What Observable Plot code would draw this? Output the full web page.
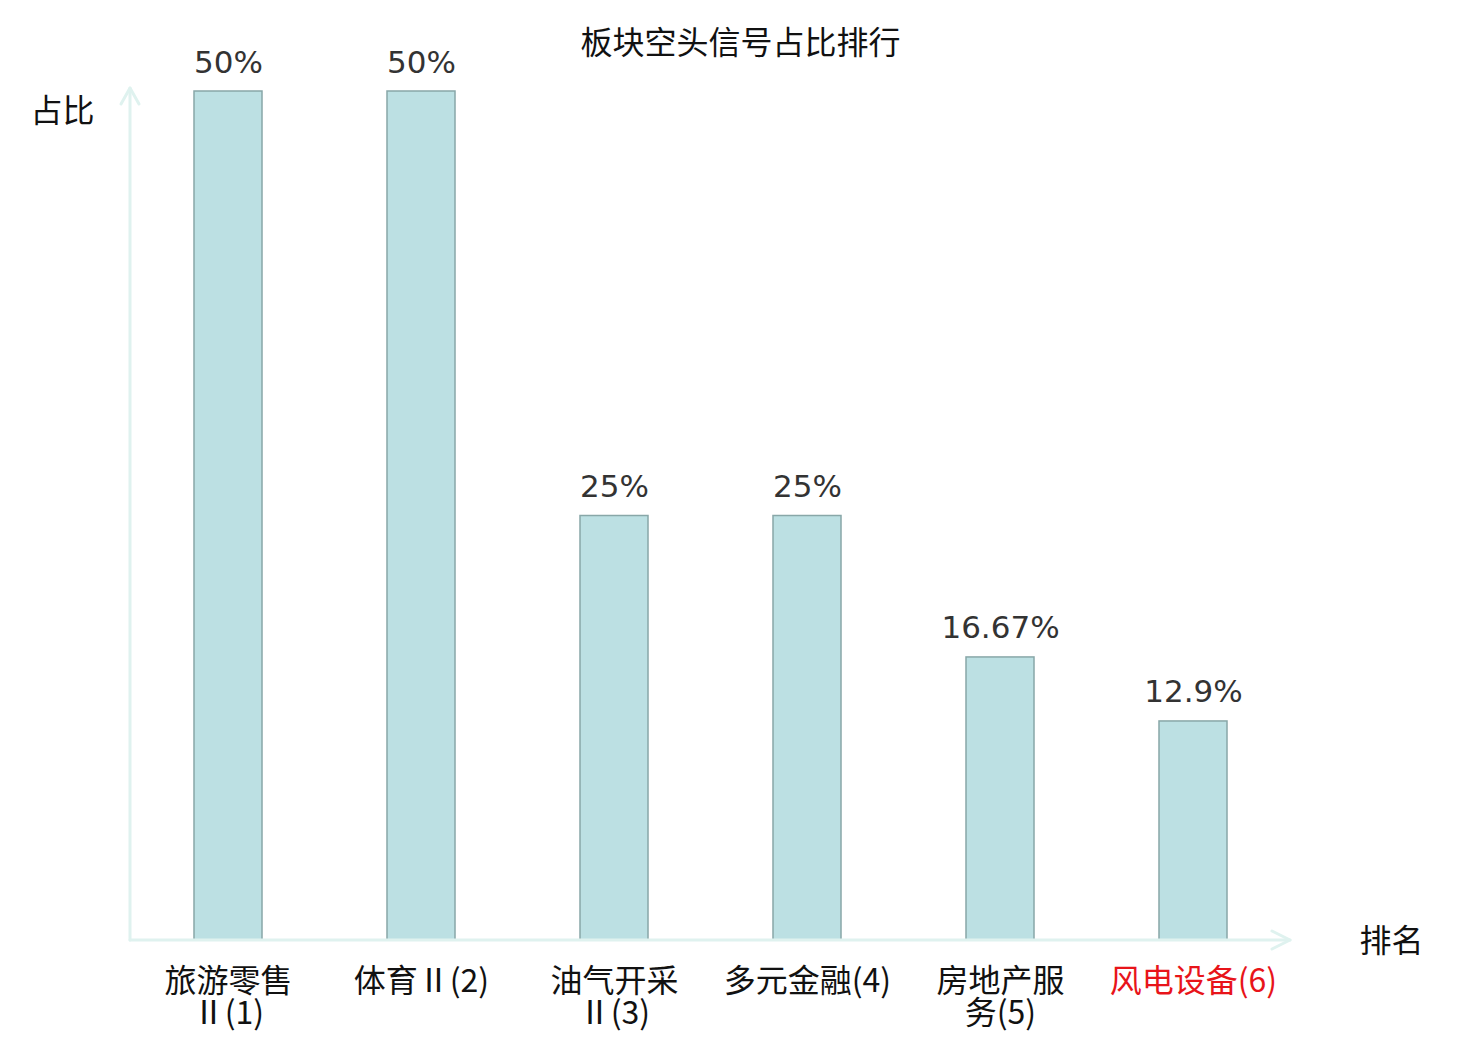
<!DOCTYPE html>
<html>
<head>
<meta charset="utf-8">
<script src="https://cdn.jsdelivr.net/npm/d3@7"></script>
<script src="https://cdn.jsdelivr.net/npm/@observablehq/plot@0.6"></script>
<style>
  html, body { margin: 0; padding: 0; background: #fff; }
  svg { display: block; }
</style>
</head>
<body>
<div id="chart"></div>
<script>
const title = "板块空头信号占比排行";
const yLabel = "占比";
const xLabel = "排名";
const categories = ["旅游零售Ⅱ(1)", "体育Ⅱ(2)", "油气开采Ⅱ(3)", "多元金融(4)", "房地产服务(5)", "风电设备(6)"];
const tickLabels = ["旅游零售\nⅡ(1)", "体育Ⅱ(2)", "油气开采\nⅡ(3)", "多元金融(4)", "房地产服\n务(5)", "风电设备(6)"];
const values = [50, 50, 25, 25, 16.67, 12.9];
const highlighted = "风电设备(6)";

const data = categories.map((name, i) => ({name, label: tickLabels[i], value: values[i]}));

const font = "'Noto Sans CJK SC', 'Noto Sans', sans-serif";
const axisColor = "#dff2ef";

function axesArrows(index, scales, values, dimensions) {
  const {marginLeft, marginTop, width, height, marginRight, marginBottom} = dimensions;
  const x0 = marginLeft, x1 = width - marginRight;
  const y0 = height - marginBottom;
  const yTop = marginTop - 3;
  const g = d3.create("svg:g")
    .attr("fill", "none")
    .attr("stroke", axisColor)
    .attr("stroke-width", 3)
    .attr("stroke-linecap", "round")
    .attr("stroke-linejoin", "round");
  g.append("path").attr("d", `M${x0},${y0}V${yTop}`);
  g.append("path").attr("d", `M${x0 - 9},${yTop + 16}L${x0},${yTop}L${x0 + 9},${yTop + 16}`);
  g.append("path").attr("d", `M${x0},${y0}H${x1}`);
  g.append("path").attr("d", `M${x1 - 18},${y0 - 9}L${x1},${y0}L${x1 - 18},${y0 + 9}`);
  return g.node();
}

const chart = Plot.plot({
  width: 1480,
  height: 1040,
  marginLeft: 130,
  marginRight: 190,
  marginTop: 91,
  marginBottom: 100,
  style: {fontFamily: font, background: "#fff"},
  x: {type: "band", domain: categories, paddingInner: 0.648, paddingOuter: 0.324, axis: null},
  y: {domain: [0, 50], axis: null},
  marks: [
    Plot.barY(data, {x: "name", y: "value", fill: "#bce0e3", stroke: "#88a7a8", strokeWidth: 1.5}),
    axesArrows,
    Plot.text(data, {x: "name", y: "value", text: d => `${d.value}%`, lineAnchor: "bottom", dy: -19,
      fontSize: 31, fill: "#333", fontFamily: "'DejaVu Sans', sans-serif"}),
    Plot.text(data, {filter: d => d.name !== highlighted, x: "name", text: "label", frameAnchor: "bottom",
      lineAnchor: "top", dy: 29, fontSize: 32, lineHeight: 1.0, fill: "#111"}),
    Plot.text(data, {filter: d => d.name === highlighted, x: "name", text: "label", frameAnchor: "bottom",
      lineAnchor: "top", dy: 29, fontSize: 32, lineHeight: 1.0, fill: "#e8141a"}),
    Plot.text([title], {frameAnchor: "top", dx: 30, dy: -60, fontSize: 32, fill: "#111"}),
    Plot.text([yLabel], {frameAnchor: "top-left", dx: -68, dy: 8, textAnchor: "middle", fontSize: 32, fill: "#111"}),
    Plot.text([xLabel], {frameAnchor: "bottom-right", dx: 101, dy: 11, textAnchor: "middle", fontSize: 32, fill: "#111"})
  ]
});
document.getElementById("chart").appendChild(chart);
</script>
</body>
</html>
